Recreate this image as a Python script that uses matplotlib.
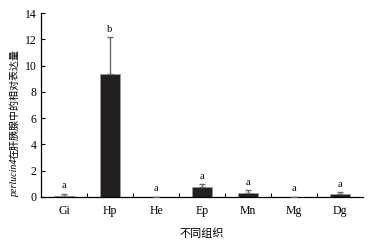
import matplotlib
matplotlib.use("Agg")
import matplotlib.pyplot as plt
import numpy as np

plt.rcParams['font.family'] = ['Liberation Serif', 'Noto Sans CJK SC']

tissues = ["Gi", "Hp", "He", "Ep", "Mn", "Mg", "Dg"]
means = [0.05, 9.37, 0.02, 0.72, 0.28, 0.03, 0.2]
errors = [0.2, 2.8, 0.0, 0.23, 0.22, 0.0, 0.16]
letters = ["a", "b", "a", "a", "a", "a", "a"]

fig = plt.figure(figsize=(3.69, 2.41), dpi=100)
ax = fig.add_axes([0.111, 0.183, 0.873, 0.763])

x = np.arange(len(tissues))
ax.bar(x, means, width=0.42, color='#231f20', edgecolor='#9a9a9a', linewidth=0.6, zorder=2)
ax.errorbar(x, means, yerr=[np.zeros(len(x)), errors], fmt='none', ecolor='#6b6b6b',
            elinewidth=1.0, capsize=2.5, capthick=1.0, zorder=3)
for xi, m, e, lab in zip(x, means, errors, letters):
    ax.text(xi, m + e + 0.25, lab, ha='center', va='bottom', fontsize=7.5)

ax.set_xlim(-0.5, 6.5)
ax.set_ylim(0, 14)
ax.set_yticks(np.arange(0, 15, 2))
ax.set_xticks(x)
ax.set_xticklabels(tissues)
ax.set_xticks(np.arange(0.5, 6, 1), minor=True)
ax.tick_params(axis='x', which='major', length=0, labelsize=8.5, pad=6)
ax.tick_params(axis='x', which='minor', length=3, direction='in', width=0.8)
ax.tick_params(axis='y', direction='in', length=3, width=0.8, labelsize=8.5, pad=3)
ax.spines['top'].set_visible(False)
ax.spines['right'].set_visible(False)
for s in ['left', 'bottom']:
    ax.spines[s].set_linewidth(0.9)

ax.set_xlabel("不同组织", fontsize=8, labelpad=8)

# y label: italic gene name followed by Chinese text
t1 = fig.text(15 / 369, 1 - 197 / 241, "perlucin4", rotation=90, fontsize=7.2,
              style='italic', ha='center', va='bottom', family='Liberation Serif')
fig.canvas.draw()
bb = t1.get_window_extent()
fig.text(15 / 369, bb.y1 / fig.bbox.height, "在肝胰腺中的相对表达量", rotation=90,
         fontsize=7.2, ha='center', va='bottom', family='Noto Sans CJK SC')

fig.savefig("out.png", dpi=100)
